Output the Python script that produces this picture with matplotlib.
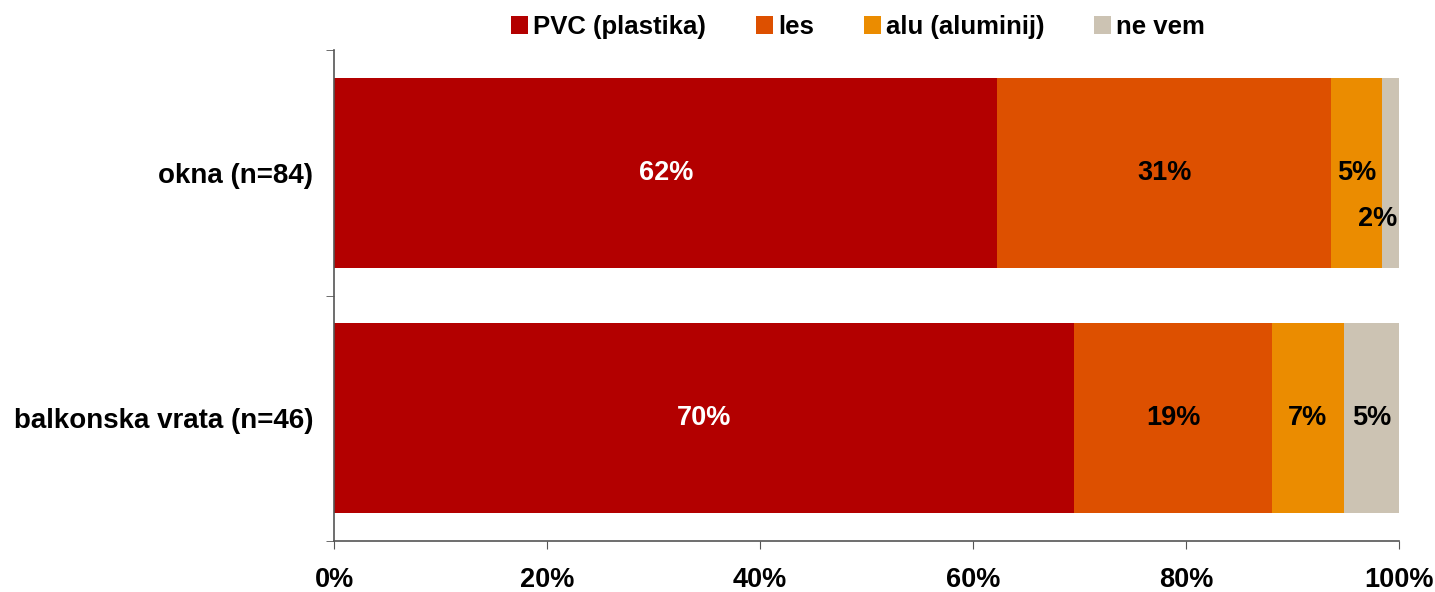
import matplotlib.pyplot as plt
import numpy as np

plt.rcParams['font.family'] = ['Liberation Sans', 'DejaVu Sans']
plt.rcParams['font.weight'] = 'bold'

# podatki
categories = ["okna (n=84)", "balkonska vrata (n=46)"]
series = ["PVC (plastika)", "les", "alu (aluminij)", "ne vem"]
values = {
    "PVC (plastika)": [62.3, 69.5],
    "les": [31.3, 18.6],
    "alu (aluminij)": [4.8, 6.7],
    "ne vem": [1.6, 5.2],
}
labels = {
    "PVC (plastika)": ["62%", "70%"],
    "les": ["31%", "19%"],
    "alu (aluminij)": ["5%", "7%"],
    "ne vem": ["2%", "5%"],
}
colors = ["#B30000", "#DD5000", "#EB8C00", "#CCC3B3"]
text_colors = ["white", "black", "black", "black"]
xticks = [0, 20, 40, 60, 80, 100]

fig = plt.figure(figsize=(14.35, 5.92), dpi=100)
ax = fig.add_axes([334 / 1435, 51 / 592, 1065 / 1435, 491 / 592])

y = np.arange(len(categories))
left = np.zeros(len(categories))
for s, c, tc in zip(series, colors, text_colors):
    v = np.array(values[s])
    ax.barh(y, v, left=left, height=0.775, color=c, label=s)
    for i in range(len(categories)):
        dx, dy = 0, 0
        # mala vrednost pri oknih je zamaknjena navzdol
        if s == "ne vem" and i == 0:
            dx, dy = -9, -33
        ax.annotate(labels[s][i], (left[i] + v[i] / 2, y[i]), xytext=(dx, dy),
                    textcoords="offset points", ha="center", va="center",
                    color=tc, fontsize=19.5, fontweight="bold")
    left += v

ax.set_xlim(0, 100)
ax.set_ylim(1.5, -0.5)
ax.set_xticks(xticks)
ax.set_xticklabels([f"{t}%" for t in xticks], fontsize=19.5, fontweight="bold")
ax.set_yticks(y)
ax.set_yticklabels(categories, fontsize=20, fontweight="bold")
ax.set_yticks([-0.5, 0.5, 1.5], minor=True)
ax.tick_params(axis="y", which="major", length=0, pad=15)
ax.tick_params(axis="y", which="minor", length=6, color="#555555")
ax.tick_params(axis="x", length=6, color="#555555", pad=13, direction="out")

for sp in ["top", "right"]:
    ax.spines[sp].set_visible(False)
for sp in ["left", "bottom"]:
    ax.spines[sp].set_color("#555555")
    ax.spines[sp].set_linewidth(1.2)

fig.legend(*ax.get_legend_handles_labels(), loc="center",
           bbox_to_anchor=(0.598, 1 - 27 / 592), ncol=4, frameon=False,
           handlelength=0.65, handleheight=0.65, handletextpad=0.2,
           columnspacing=1.95, prop={"weight": "bold", "size": 18.5},
           borderpad=0)

fig.savefig("out.png", dpi=100)
